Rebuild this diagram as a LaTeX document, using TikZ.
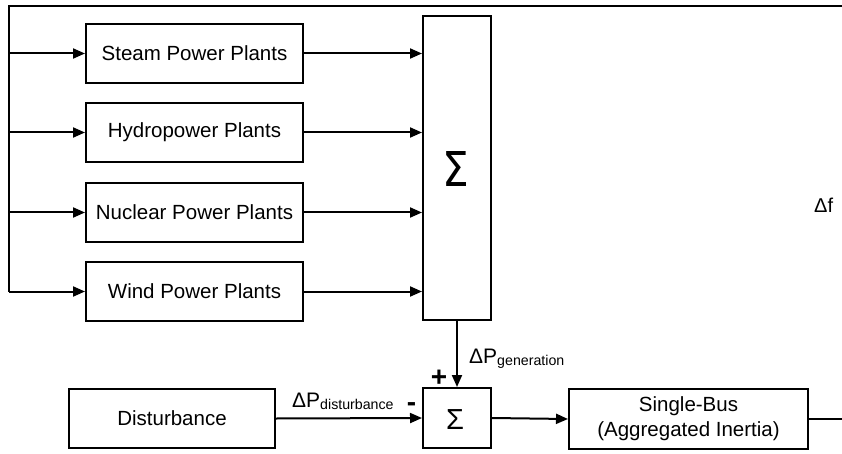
\documentclass[tikz,border=0pt]{standalone}
\usepackage{fontspec}
\setmainfont{Liberation Sans}
\newfontfamily\dejavu{DejaVu Sans}
\usetikzlibrary{arrows.meta}
\begin{document}
\begin{tikzpicture}[x=1pt,y=-1pt,
  blk/.style={draw, line width=2pt, inner sep=0pt, align=center,
    font=\fontsize{20.5}{25}\selectfont},
  arr/.style={line width=2pt, -{Triangle[length=12pt,width=10pt]}},
  ln/.style={line width=2pt, line join=miter},
  lbl/.style={inner sep=0pt, font=\fontsize{21}{25}\selectfont},
  sgn/.style={inner sep=0pt, font=\bfseries\fontsize{28}{30}\selectfont}]
\useasboundingbox (0,0) rectangle (842,454);

% plant blocks
\node[blk, minimum width=217pt, minimum height=59pt] (steam) at (194.5,53.5) {Steam Power Plants};
\node[blk, minimum width=217pt, minimum height=59pt] (hydro) at (194.5,132.5) {Hydropower Plants};
\node[blk, minimum width=217pt, minimum height=59pt] (nuc) at (194.5,212.5) {Nuclear Power Plants};
\node[blk, minimum width=217pt, minimum height=59pt] (wind) at (194.5,291.5) {Wind Power Plants};

% summation blocks
\node[blk, minimum width=68pt, minimum height=304pt] (bigsum) at (457,168) {};
\node[inner sep=0pt, anchor=base, xscale=0.88, font=\dejavu\fontsize{48}{50}\selectfont] (bigsig) at (456,187) {Σ};
\node[blk, minimum width=68pt, minimum height=60pt] (smsum) at (457,418) {};
\node[inner sep=0pt, anchor=base, font=\fontsize{29}{30}\selectfont] (smsig) at (455,429) {Σ};

\node[blk, minimum width=206pt, minimum height=59pt] (dist) at (172,418.5) {Disturbance};
\node[blk, minimum width=239pt, minimum height=60pt] (bus) at (688.5,419) {Single-Bus\\(Aggregated Inertia)};

% feedback path coordinates
\coordinate (outR) at (842,419);
\coordinate (topR) at (842,6);
\coordinate (topL) at (9,6);
\coordinate (botL) at (9,291.5);

\draw[ln] (bus.east) -- (outR);
\draw[ln] (topR) -- (topL) -- (botL);
\foreach \b in {steam,hydro,nuc,wind}{
  \draw[arr] (topL |- \b.west) -- (\b.west);
  \draw[arr] (\b.east) -- (bigsum.west |- \b.east);
}
\draw[arr] (bigsum.south) -- (smsum.north);
\draw[arr] (dist.east) -- (smsum.west);
\draw[arr] (smsum.east) -- (bus.west);

% labels
\node[lbl, anchor=base west] (lgen) at (469,363) {ΔP\raisebox{-2.5pt}{\fontsize{14.2}{15}\selectfont generation}};
\node[lbl, anchor=base west] (ldist) at (292,407) {ΔP\raisebox{-2.5pt}{\fontsize{14.2}{15}\selectfont disturbance}};
\node[sgn, anchor=base] (plus) at (439,386) {+};
\node[sgn, anchor=base] (minus) at (411.5,411) {-};
\node[lbl, anchor=base west, font=\fontsize{20}{24}\selectfont] (df) at (814,213) {Δf};
\end{tikzpicture}
\end{document}
